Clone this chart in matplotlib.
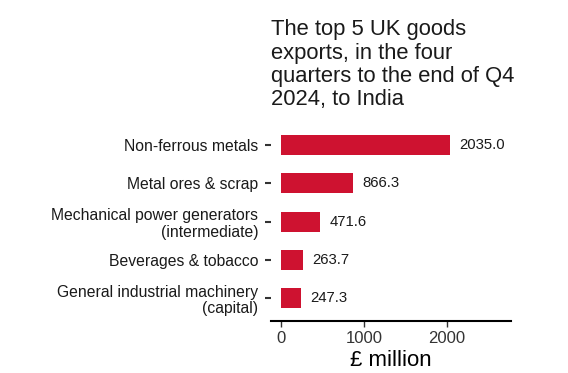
import matplotlib
matplotlib.use("Agg")
import matplotlib.pyplot as plt
import numpy as np

plt.rcParams.update({
    "font.family": "sans-serif",
    "font.sans-serif": ["Liberation Sans", "DejaVu Sans"],
    "text.color": "#1a1a1a",
})

categories = [
    "Non-ferrous metals",
    "Metal ores & scrap",
    "Mechanical power generators\n(intermediate)",
    "Beverages & tobacco",
    "General industrial machinery\n(capital)",
]
values = [2035.0, 866.3, 471.6, 263.7, 247.3]
xticks = [0, 1000, 2000]

BAR_RED = "#CE1230"

fig = plt.figure(figsize=(5.68, 3.73), dpi=100)
ax = fig.add_axes([0.477, 0.139, 0.423, 0.534])

y = np.arange(len(categories))[::-1]
ax.barh(y, values, height=0.52, color=BAR_RED)

for yi, v in zip(y, values):
    ax.text(v + 110, yi, f"{v:.1f}", va="center", ha="left", fontsize=10.7, color="#1a1a1a")

ax.set_yticks(y)
ax.set_yticklabels(categories, fontsize=11.3, color="#1a1a1a", linespacing=1.15)
ax.set_xticks(xticks)
ax.set_xticklabels([str(t) for t in xticks], fontsize=12, color="#333333")
ax.set_xlim(-120, 2770)
ax.set_ylim(-0.6, len(categories) - 0.4)

for s in ["top", "right", "left"]:
    ax.spines[s].set_visible(False)
ax.spines["bottom"].set_linewidth(1.5)
ax.spines["bottom"].set_color("black")
ax.tick_params(axis="y", length=4, width=1.5, color="#333333", pad=5)
ax.tick_params(axis="x", length=4, width=1, color="#333333", pad=3)

ax.set_xlabel("£ million", fontsize=16, labelpad=3)
ax.set_title("The top 5 UK goods\nexports, in the four\nquarters to the end of Q4\n2024, to India",
             loc="left", fontsize=15.8, pad=12, linespacing=1.15)

fig.savefig("out.png", dpi=100)
